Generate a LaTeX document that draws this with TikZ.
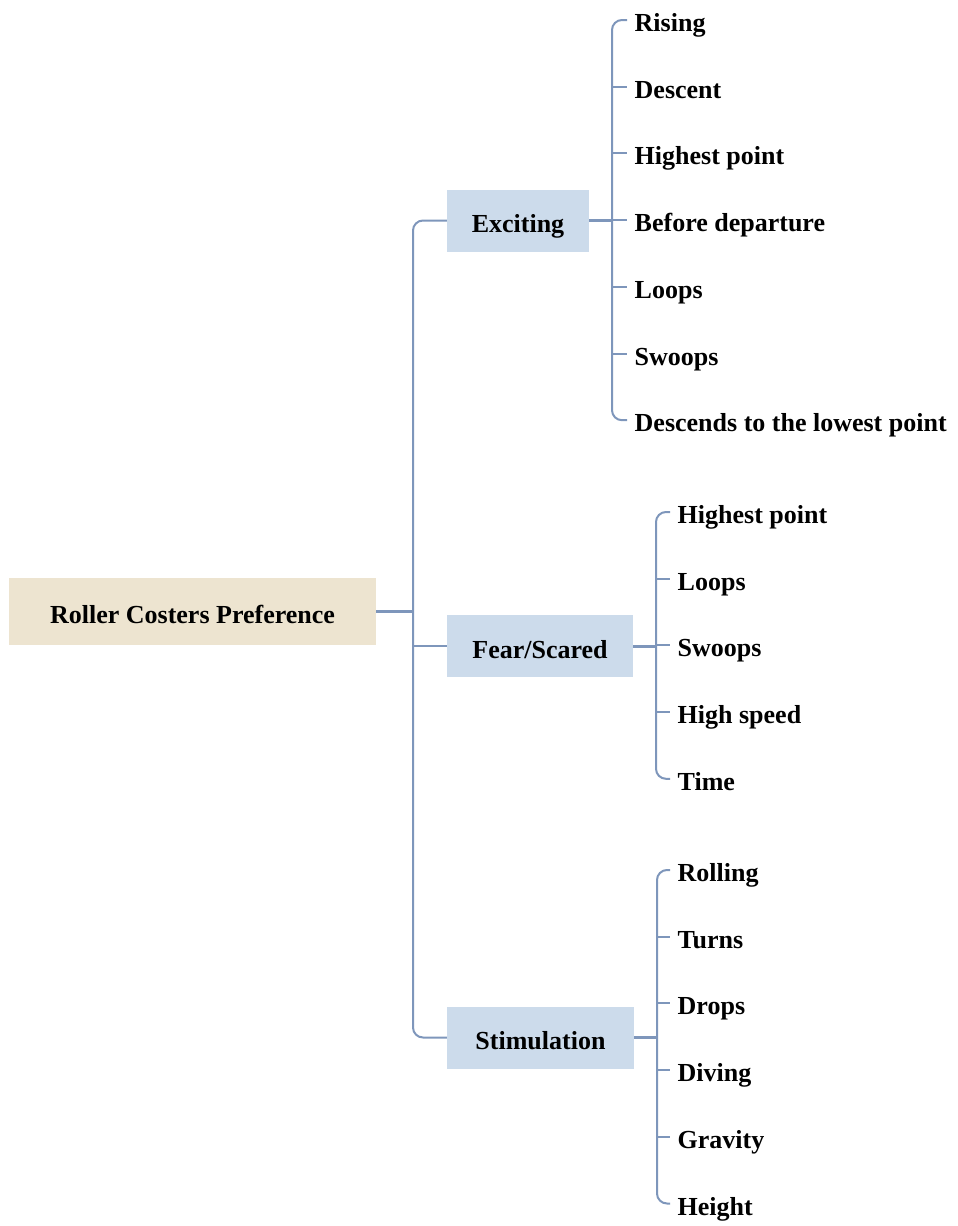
\documentclass[tikz,border=0pt]{standalone}
\usepackage{fontspec}
\setmainfont{Liberation Serif}
\usetikzlibrary{calc}
\definecolor{rootfill}{RGB}{237,228,208}
\definecolor{catfill}{RGB}{204,219,235}
\definecolor{linkblue}{RGB}{126,150,187}
\tikzset{
	boxfont/.style={font=\fontsize{26}{30}\selectfont\bfseries},
	rootbox/.style={boxfont, fill=rootfill, minimum width=367pt, minimum height=67pt, inner sep=0pt, text height=24pt, text depth=0pt},
	catbox/.style={boxfont, fill=catfill, minimum height=62pt, inner sep=0pt, text height=24pt, text depth=0pt},
	leaf/.style={boxfont, anchor=west, inner xsep=7.5pt, inner ysep=0pt, text height=26pt, text depth=3pt},
	link/.style={draw=linkblue, line width=2pt, rounded corners=10pt},
	thicklink/.style={draw=linkblue, line width=3pt}
}

\begin{document}
\begin{tikzpicture}[x=1pt,y=-1pt]
	\useasboundingbox (0,0) rectangle (958,1226);
	
	\node[rootbox] (root) at (192.5,611) {Roller Costers Preference};
	\node[catbox, minimum width=142pt] (exc) at (518,220.5) {Exciting};
	\node[catbox, minimum width=186pt] (fear) at (540,646) {Fear/Scared};
	\node[catbox, minimum width=187pt] (stim) at (540.5,1037.5) {Stimulation};
	
	\coordinate (trunk) at (413,611);
	\coordinate (excbus) at (612,220.5);
	\coordinate (fearbus) at (656,646);
	\coordinate (stimbus) at (657,1037.5);
	
	\foreach \t [count=\i] in {Rising,Descent,Highest point,Before departure,Loops,Swoops,Descends to the lowest point}
		\node[leaf] (exc\i) at (627,{20+66.7*(\i-1)}) {\t};
	\foreach \t [count=\i] in {Highest point,Loops,Swoops,High speed,Time}
		\node[leaf] (fear\i) at (670,{512+66.7*(\i-1)}) {\t};
	\foreach \t [count=\i] in {Rolling,Turns,Drops,Diving,Gravity,Height}
		\node[leaf] (stim\i) at (670,{870+66.7*(\i-1)}) {\t};
	
	\draw[link] (exc.west) -| (trunk) |- (stim.west);
	\draw[link] (trunk |- fear.west) -- (fear.west);
	\draw[thicklink] (root.east) -- (trunk);
	
	\draw[link] (exc1.west) -| (excbus) |- (exc7.west);
	\foreach \i in {2,...,6}
		\draw[link] (excbus |- exc\i.west) -- (exc\i.west);
	\draw[thicklink] (exc.east) -- (excbus);
	
	\draw[link] (fear1.west) -| (fearbus) |- (fear5.west);
	\foreach \i in {2,3,4}
		\draw[link] (fearbus |- fear\i.west) -- (fear\i.west);
	\draw[thicklink] (fear.east) -- (fearbus);
	
	\draw[link] (stim1.west) -| (stimbus) |- (stim6.west);
	\foreach \i in {2,...,5}
		\draw[link] (stimbus |- stim\i.west) -- (stim\i.west);
	\draw[thicklink] (stim.east) -- (stimbus);
\end{tikzpicture}
\end{document}
